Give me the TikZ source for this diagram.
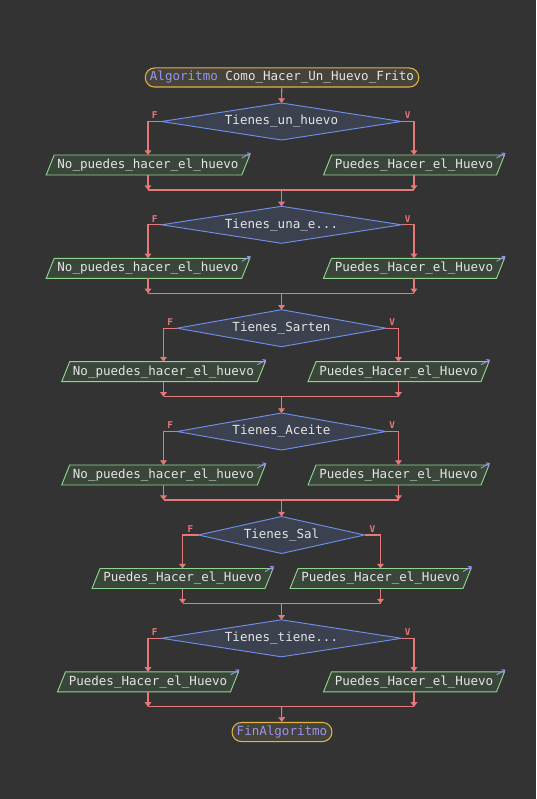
\documentclass[tikz,border=0pt]{standalone}
\usepackage{fontspec}
\setmonofont{DejaVu Sans Mono}
\usetikzlibrary{shapes.geometric,arrows.meta,calc}
\definecolor{bg}{HTML}{333333}
\definecolor{linec}{HTML}{E57878}
\definecolor{txt}{HTML}{E4E4E4}
\definecolor{kw}{HTML}{9A94F0}
\definecolor{decfill}{HTML}{3C4150}
\definecolor{decdraw}{HTML}{6F8FEA}
\definecolor{iofill}{HTML}{3B463B}
\definecolor{iodraw}{HTML}{8FD68F}
\definecolor{termfill}{HTML}{45433A}
\definecolor{termdraw}{HTML}{E0B445}
\tikzset{
  x=0.75pt, y=-0.75pt,
  every node/.style={font=\ttfamily\fontsize{9.4}{11}\selectfont, text=txt},
  term/.style={draw=termdraw, fill=termfill, rounded corners=7pt, line width=0.8pt, inner xsep=3.5pt, minimum height=14.3pt, inner ysep=0pt},
  dectext/.style={inner sep=0pt},
  decbox/.style={draw=decdraw, fill=decfill, line width=0.7pt},
  iotext/.style={inner xsep=0pt, inner ysep=0pt, minimum height=15pt},
  iobox/.style={draw=iodraw, fill=iofill, line width=0.7pt},
  iconarr/.style={draw=kw, line width=0.7pt, -{Straight Barb[length=2pt,width=3pt]}},
  flow/.style={draw=linec, line width=0.8pt, -{Triangle[length=3.5pt,width=5pt]}},
  plain/.style={draw=linec, line width=0.8pt},
  lbl/.style={font=\ttfamily\fontsize{7}{8}\selectfont\bfseries, text=linec, inner sep=0pt},
}
\newcommand{\iobox}[4]{%
  \node[iotext] (#1) at (#2,#3) {#4};
  \path[iobox] ($(#1.west)+(-11,10)$) -- ($(#1.west)+(-3,-10)$) -- ($(#1.east)+(11,-10)$) -- ($(#1.east)+(3,10)$) -- cycle;
  \node[iotext] at (#2,#3) {#4};
  \draw[iconarr] ($(#1.east)+(3,-7)$) -- ($(#1.east)+(12,-12)$);
}
% block: #1 id, #2 diamond y, #3 diamond half width, #4 left x, #5 right x, #6 text, #7 left io, #8 right io
\newcommand{\block}[8]{%
  \coordinate (dt#1) at (281.5,#2-18.5);
  \coordinate (db#1) at (281.5,#2+18.5);
  \coordinate (dl#1) at (281.5-#3,#2);
  \coordinate (dr#1) at (281.5+#3,#2);
  \path[decbox] (dt#1) -- (dr#1) -- (db#1) -- (dl#1) -- cycle;
  \node[dectext] (d#1) at (281.5,#2) {#6};
  \coordinate (lc#1) at (#4,#2);
  \coordinate (rc#1) at (#5,#2);
  \iobox{l#1}{#4}{#2+43.5}{#7}
  \iobox{r#1}{#5}{#2+43.5}{#8}
  \coordinate (jl#1) at (#4,#2+68.5);
  \coordinate (jr#1) at (#5,#2+68.5);
  \coordinate (jm#1) at (281.5,#2+68.5);
  \draw[flow] (dl#1) -- (lc#1) -- ($(l#1)+(0,-10)$);
  \draw[flow] (dr#1) -- (rc#1) -- ($(r#1)+(0,-10)$);
  \draw[flow] ($(l#1)+(0,10)$) -- (jl#1);
  \draw[flow] ($(r#1)+(0,10)$) -- (jr#1);
  \draw[plain] (jl#1) -- (jr#1);
  \node[lbl] at ($(dl#1)!0.5!(lc#1)+(0,-6)$) {F};
  \node[lbl] at ($(dr#1)!0.5!(rc#1)+(0,-6)$) {V};
}
\begin{document}
\begin{tikzpicture}
\fill[bg] (0,0) rectangle (536,799);
\useasboundingbox (0,0) rectangle (536,799);
\node[term] (start) at (282,77.5) {\textcolor{kw}{Algoritmo} Como\_Hacer\_Un\_Huevo\_Frito};
\block{1}{121.5}{120}{148}{414}{Tienes\_un\_huevo}{No\_puedes\_hacer\_el\_huevo}{Puedes\_Hacer\_el\_Huevo}
\block{2}{224.8}{120}{148}{414}{Tienes\_una\_e...}{No\_puedes\_hacer\_el\_huevo}{Puedes\_Hacer\_el\_Huevo}
\block{3}{328.2}{104.5}{163.5}{398.5}{Tienes\_Sarten}{No\_puedes\_hacer\_el\_huevo}{Puedes\_Hacer\_el\_Huevo}
\block{4}{431.5}{104.5}{163.5}{398.5}{Tienes\_Aceite}{No\_puedes\_hacer\_el\_huevo}{Puedes\_Hacer\_el\_Huevo}
\block{5}{535}{83}{182.5}{380.5}{Tienes\_Sal}{Puedes\_Hacer\_el\_Huevo}{Puedes\_Hacer\_el\_Huevo}
\block{6}{638.3}{120}{148}{414}{Tienes\_tiene...}{Puedes\_Hacer\_el\_Huevo}{Puedes\_Hacer\_el\_Huevo}
\node[term] (end) at (282,732) {\textcolor{kw}{FinAlgoritmo}};
\draw[flow] (start) -- (dt1);
\draw[flow] (jm1) -- (dt2);
\draw[flow] (jm2) -- (dt3);
\draw[flow] (jm3) -- (dt4);
\draw[flow] (jm4) -- (dt5);
\draw[flow] (jm5) -- (dt6);
\draw[flow] (jm6) -- (end);
\end{tikzpicture}
\end{document}
